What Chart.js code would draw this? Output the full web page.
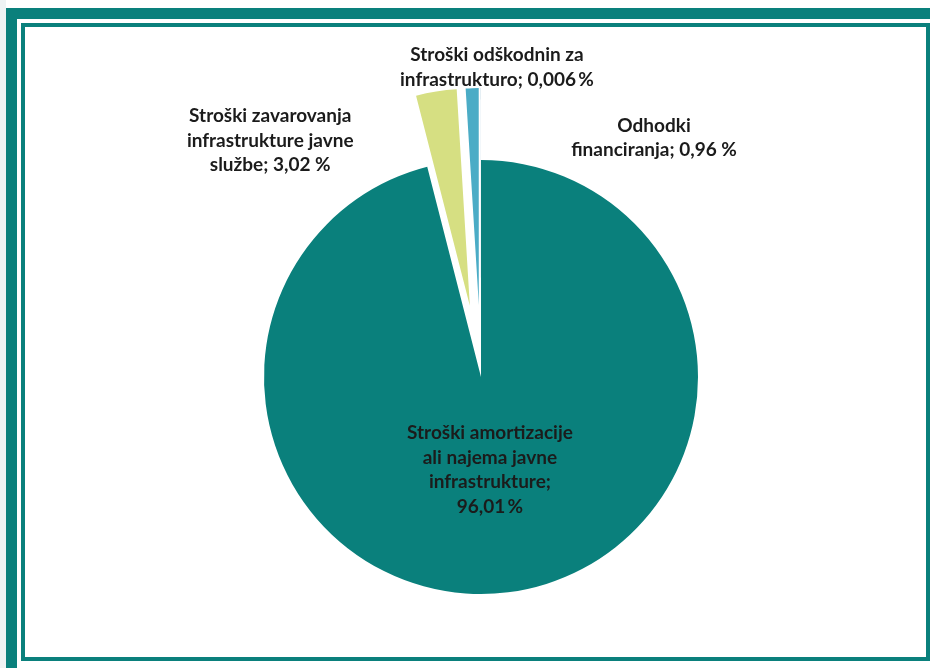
<!DOCTYPE html>
<html>
<head>
<meta charset="utf-8">
<script src="https://cdn.jsdelivr.net/npm/chart.js@4/dist/chart.umd.min.js"></script>
<style>
  html, body { margin: 0; padding: 0; }
  body { width: 930px; height: 668px; position: relative; overflow: hidden; background: #ffffff; }
  #leftStrip { position: absolute; left: 0; top: 0; width: 6px; height: 668px; background: #eef3f4; }
  #outerBand { position: absolute; left: 6px; top: 8px; width: 940px; height: 680px; box-sizing: border-box; border: 11px solid #0a807c; }
  #innerLine { position: absolute; left: 21px; top: 23px; width: 909px; height: 638px; box-sizing: border-box; border: 4px solid #0a807c; background: #ffffff; }
  canvas { position: absolute; left: 0; top: 0; }
</style>
</head>
<body>
<div id="leftStrip"></div>
<div id="outerBand"></div>
<div id="innerLine"></div>
<canvas id="c" width="930" height="668"></canvas>
<script>
// ---- data ----
const categories = [
  'Stroški amortizacije ali najema javne infrastrukture',
  'Stroški zavarovanja infrastrukture javne službe',
  'Odhodki financiranja',
  'Stroški odškodnin za infrastrukturo'
];
const shares = [96.01, 3.02, 0.96, 0.006];
const labelLines = [
  ['Stroški amortizacije', 'ali najema javne', 'infrastrukture;', '96,01\u2009%'],
  ['Stroški zavarovanja', 'infrastrukture javne', 'službe; 3,02 %'],
  ['Odhodki', 'financiranja; 0,96 %'],
  ['Stroški odškodnin za', 'infrastrukturo; 0,006\u2009%']
];
const sliceColors = ['#0a807c', '#d6df82', '#4bacc6', '#2f7fa8'];
// explosion distance of each slice (pixels, along the slice's middle angle)
const sliceExplode = [0, 72, 72, 72];
// label placement: [distance as fraction of radius, angle in degrees clockwise from top]
const labelPlacement = [[0.43, 174.5], [1.46, 318.3], [1.36, 35.9], [1.43, 2.95]];

// Explode slices by moving each arc element's centre outward (keeps radius unchanged)
const explodePlugin = {
  id: 'explode',
  afterDatasetUpdate(chart, args) {
    const meta = args.meta;
    meta.data.forEach((arc, i) => {
      const d = sliceExplode[i] || 0;
      if (!d) return;
      const half = (arc.startAngle + arc.endAngle) / 2;
      arc.x += Math.cos(half) * d;
      arc.y += Math.sin(half) * d;
    });
  }
};

const labelPlugin = {
  id: 'manualLabels',
  afterDatasetsDraw(chart) {
    const ctx = chart.ctx;
    const meta = chart.getDatasetMeta(0);
    const ca = chart.chartArea;
    const cx0 = (ca.left + ca.right) / 2;
    const cy0 = (ca.top + ca.bottom) / 2;
    const R = meta.data[0].outerRadius;
    const lineH = 24.6;
    ctx.save();
    ctx.font = 'bold 19px Lato, "Open Sans", sans-serif';
    ctx.fillStyle = '#1b1b1b';
    ctx.textAlign = 'center';
    ctx.textBaseline = 'middle';
    meta.data.forEach((arc, i) => {
      const [f, deg] = labelPlacement[i];
      const a = deg * Math.PI / 180;
      const cx = cx0 + Math.sin(a) * f * R;
      const cy = cy0 - Math.cos(a) * f * R;
      const lines = labelLines[i];
      const top = cy - (lines.length - 1) * lineH / 2;
      lines.forEach((t, k) => ctx.fillText(t, cx, top + k * lineH));
    });
    ctx.restore();
  }
};

new Chart(document.getElementById('c'), {
  type: 'pie',
  data: {
    labels: categories,
    datasets: [{
      data: shares,
      backgroundColor: sliceColors,
      borderWidth: 0
    }]
  },
  options: {
    responsive: false,
    animation: false,
    layout: { padding: { left: 264, right: 232, top: 160, bottom: 74 } },
    plugins: { legend: { display: false }, tooltip: { enabled: false } }
  },
  plugins: [explodePlugin, labelPlugin]
});
</script>
</body>
</html>
